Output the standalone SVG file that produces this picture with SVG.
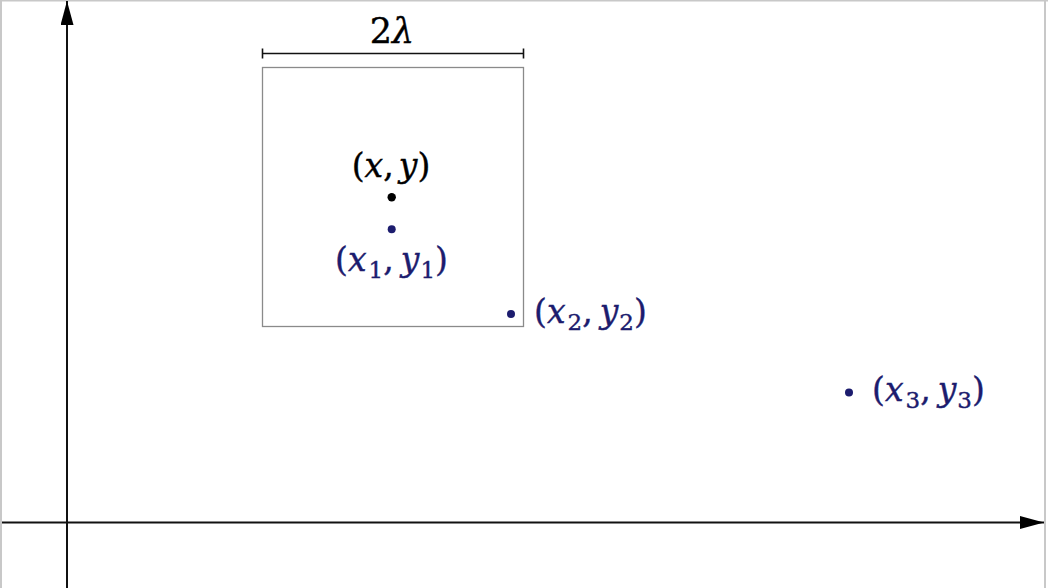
<svg xmlns="http://www.w3.org/2000/svg" width="1048" height="588" viewBox="0 0 1048 588">
<style>
.axis{stroke:#111;stroke-width:2;fill:none}
.frame{stroke:#c8c8c8;stroke-width:2;fill:none}
.box{stroke:#8a8a8a;stroke-width:1.3;fill:none}
.dim{stroke:#111;stroke-width:1.6;fill:none}
.lbl{font-family:"DejaVu Serif","Liberation Serif",serif;font-size:33px;stroke-width:0.4}
.blk{fill:#000;stroke:#000}
.blu{fill:#1c1c6e;stroke:#1c1c6e}
.it{font-style:italic}
.sub{font-size:23px}
</style>
<defs>
<marker id="arr" viewBox="0 0 24 13" refX="24" refY="6.5" markerWidth="24" markerHeight="13" markerUnits="userSpaceOnUse" orient="auto">
<path d="M0,0 L24,6.5 L0,13 Z" fill="#000"/>
</marker>
</defs>
<rect width="1048" height="588" fill="#fff"/>
<g id="frame">
<line class="frame" x1="1" y1="0" x2="1" y2="588"/>
<line class="frame" x1="0" y1="0.5" x2="1048" y2="0.5"/>
<line class="frame" x1="1045" y1="0" x2="1045" y2="588"/>
</g>
<g id="connectors">
<line class="axis" x1="2" y1="522.5" x2="1044" y2="522.5" marker-end="url(#arr)"/>
<line class="axis" x1="67" y1="588" x2="67" y2="1" marker-end="url(#arr)"/>
<g id="dimension">
<line class="dim" x1="262.5" y1="53.5" x2="523.5" y2="53.5"/>
<line class="dim" x1="262.5" y1="48.5" x2="262.5" y2="58.5"/>
<line class="dim" x1="523.5" y1="48.5" x2="523.5" y2="58.5"/>
</g>
</g>
<g id="box">
<rect class="box" x="262.5" y="67.5" width="261" height="259"/>
</g>
<g id="label-2lambda">
<text class="lbl blk" x="392" y="43" text-anchor="middle" style="font-size:35px"><tspan>2</tspan><tspan class="it">λ</tspan></text>
</g>
<g id="point-xy">
<circle cx="391.7" cy="197.3" r="4.2" fill="#000"/>
<text class="lbl blk" x="391" y="177" text-anchor="middle">(<tspan class="it">x</tspan>,<tspan class="it" dx="5">y</tspan>)</text>
</g>
<g id="point-1">
<circle cx="391.7" cy="229.3" r="4" fill="#1c1c6e"/>
<text class="lbl blu" x="391.5" y="271" text-anchor="middle">(<tspan class="it">x</tspan><tspan class="sub" dx="2" dy="7">1</tspan><tspan dy="-7">,</tspan><tspan class="it" dx="7">y</tspan><tspan class="sub" dx="1" dy="7">1</tspan><tspan dy="-7">)</tspan></text>
</g>
<g id="point-2">
<circle cx="511" cy="314" r="4" fill="#1c1c6e"/>
<text class="lbl blu" x="534" y="323">(<tspan class="it">x</tspan><tspan class="sub" dx="2" dy="7">2</tspan><tspan dy="-7">,</tspan><tspan class="it" dx="7">y</tspan><tspan class="sub" dx="1" dy="7">2</tspan><tspan dy="-7">)</tspan></text>
</g>
<g id="point-3">
<circle cx="849" cy="392.5" r="4" fill="#1c1c6e"/>
<text class="lbl blu" x="872" y="401">(<tspan class="it">x</tspan><tspan class="sub" dx="2" dy="7">3</tspan><tspan dy="-7">,</tspan><tspan class="it" dx="7">y</tspan><tspan class="sub" dx="1" dy="7">3</tspan><tspan dy="-7">)</tspan></text>
</g>
</svg>
